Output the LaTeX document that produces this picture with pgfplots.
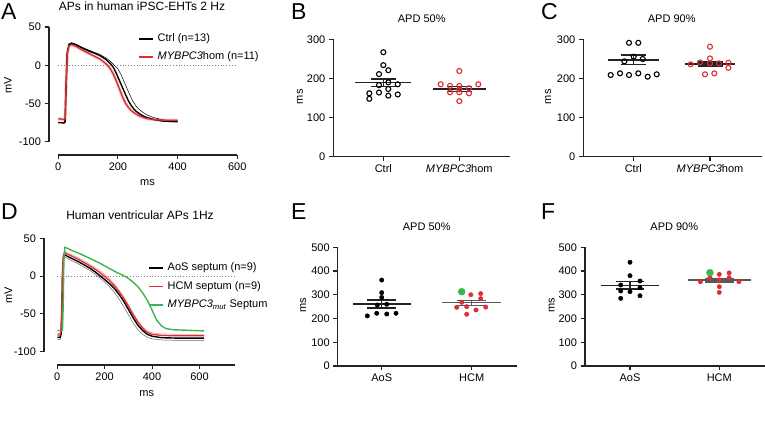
\documentclass[border=0pt]{standalone}
\usepackage{fontspec}
\setmainfont{Liberation Sans}
\usepackage{pgfplots}
\pgfplotsset{compat=1.18}
\definecolor{pred}{RGB}{222,45,52}
\definecolor{lred}{RGB}{240,150,150}
\definecolor{pgreen}{RGB}{60,180,80}
\definecolor{axcol}{RGB}{35,35,35}
\newcommand{\tf}{\fontsize{11}{13}\selectfont}
\newcommand{\ttf}{\fontsize{12}{14}\selectfont}
\newcommand{\lf}{\fontsize{23}{26}\selectfont}
\pgfplotsset{
  prism/.style={
    scale only axis, axis lines*=left,
    axis line style={line width=1.1pt, axcol},
    tick style={line width=1.1pt, axcol},
    tick align=outside, major tick length=4.5pt,
    tick label style={font=\tf},
    label style={font=\tf},
    /pgf/number format/assume math mode=true,
    clip=false, minor tick num=0,
  },
  leg/.style={
    legend style={draw=none, fill=none, font=\tf, inner sep=0pt,
      nodes={inner sep=0pt, text height=8pt, text depth=2.5pt}},
    legend cell align=left,
    legend image code/.code={\draw[##1] (0pt,0pt) -- (14pt,0pt);},
  },
  scat/.style={prism, xtick={1,2}, ytick distance=100, ymin=0},
  meanl/.style={line width=1.3pt, axcol, forget plot},
}
\begin{document}
\begin{tikzpicture}[x=1pt,y=1pt]
\useasboundingbox (0,0) rectangle (765,430);

% ---------- Panel A ----------
\begin{axis}[prism, leg, at={(49pt,275pt)}, anchor=south west,
  width=188.3pt, height=128pt, xmin=-31, xmax=600, ymin=-117.4, ymax=50,
  xtick={0,200,400,600}, ytick={-100,-50,0,50},
  axis line style={draw=none},
  xlabel={ms}, ylabel={mV},
  xlabel style={at={(axis description cs:0.523,-0.219)}, anchor=center},
  ylabel style={at={(axis description cs:-0.218,0.547)}, anchor=center},
  legend style={at={(axis description cs:0.473,0.95)}, anchor=north west, row sep=7.5pt, column sep=4pt}]
\addlegendimage{black, line width=1.4pt}
\addlegendentry{Ctrl (n=13)}
\addlegendimage{pred, line width=1.4pt}
\addlegendentry{\textit{MYBPC3}hom (n=11)}
\draw[line width=1.1pt, axcol] ({rel axis cs:0,0}|-{axis cs:0,-100}) -- ({rel axis cs:0,0}|-{axis cs:0,50});
\draw[line width=1.1pt, axcol] (axis cs:0,-117.4) -- (axis cs:600,-117.4);
\addplot[gray, dotted, line width=0.8pt, forget plot] coordinates {(0,0) (600,0)};
\addplot[lred, line width=3pt, opacity=0.6, forget plot] coordinates {
(0,-70)(20,-71)(23,-70)(26,-30)(30,15)(36,25.5)(45,27)(60,24.5)(80,20)(100,16)(120,12)(140,8)(155,3.5)(165,0)(175,-5)(185,-12)(195,-21)(205,-31)(215,-41)(225,-49.5)(235,-55)(245,-59.5)(255,-62.5)(270,-66)(290,-69)(305,-70.3)(330,-71.5)(360,-72)(400,-72)};
\addplot[black, line width=0.5pt, forget plot] coordinates {
(0,-74.5)(20,-75)(23,-73.5)(26,-28)(30,17)(36,28)(45,29.5)(60,27.5)(80,23.5)(100,20)(120,17)(140,14)(160,9.5)(175,5)(190,-1)(200,-5)(210,-12)(220,-21)(230,-30)(240,-39)(250,-47)(260,-53)(270,-57.5)(285,-62)(300,-65.5)(320,-68.5)(350,-71.5)(400,-73)};
\addplot[black, line width=1.4pt, forget plot] coordinates {
(0,-75)(20,-75.5)(23,-74)(26,-30)(30,15)(36,27)(45,28.5)(60,26.5)(80,22.5)(100,19)(120,16)(140,12.5)(160,7.5)(175,2)(185,-3)(195,-11)(205,-20)(215,-29)(225,-38)(235,-46.5)(245,-53)(255,-58)(265,-61.5)(280,-65.5)(297,-68.5)(320,-71)(350,-73)(400,-74)};
\addplot[pred, line width=1.3pt, forget plot] coordinates {
(0,-70)(20,-71)(23,-70)(26,-30)(30,15)(36,25.5)(45,27)(60,24.5)(80,20)(100,16)(120,12)(140,8)(155,3.5)(165,0)(175,-5)(185,-12)(195,-21)(205,-31)(215,-41)(225,-49.5)(235,-55)(245,-59.5)(255,-62.5)(270,-66)(290,-69)(305,-70.3)(330,-71.5)(360,-72)(400,-72)};
\end{axis}

% ---------- Panel D ----------
\begin{axis}[prism, leg, at={(44pt,65pt)}, anchor=south west,
  width=191pt, height=126.7pt, xmin=-56, xmax=750, ymin=-117.6, ymax=50,
  xtick={0,200,400,600}, ytick={-100,-50,0,50},
  axis line style={draw=none},
  xlabel={ms}, ylabel={mV},
  xlabel style={at={(axis description cs:0.538,-0.229)}, anchor=center},
  ylabel style={at={(axis description cs:-0.187,0.553)}, anchor=center},
  legend style={at={(axis description cs:0.545,0.807)}, anchor=north west, row sep=8pt, column sep=4pt}]
\addlegendimage{black, line width=1.4pt}
\addlegendentry{AoS septum (n=9)}
\addlegendimage{pred, line width=1.4pt}
\addlegendentry{HCM septum (n=9)}
\addlegendimage{pgreen, line width=1.4pt}
\addlegendentry{\textit{MYBPC3}\textsubscript{\textit{mut}} Septum}
\draw[line width=1.1pt, axcol] ({rel axis cs:0,0}|-{axis cs:0,-100}) -- ({rel axis cs:0,0}|-{axis cs:0,50});
\draw[line width=1.1pt, axcol] (axis cs:0,-117.6) -- (axis cs:748,-117.6);
\addplot[gray, dotted, line width=0.8pt, forget plot] coordinates {(0,0) (745,0)};
\addplot[black!60, line width=0.5pt, forget plot] coordinates {
(0,-84)(12,-84)(16,-80)(19,-55)(22,-5)(26,21)(32,25)(50,22)(80,17.5)(110,12.5)(140,7)(160,2.5)(180,-2.5)(200,-8)(220,-14)(240,-21)(260,-30)(280,-40)(300,-51)(320,-62)(340,-71)(360,-77)(380,-81)(400,-83)(440,-84.5)(500,-85)(620,-85)};
\addplot[lred, line width=0.6pt, forget plot] coordinates {
(0,-76)(12,-76)(16,-70)(19,-42)(22,8)(26,30)(31,33)(50,30)(80,25.5)(110,20.5)(140,15)(160,11)(180,7)(200,2)(220,-3.5)(240,-10)(260,-18)(280,-27)(300,-37.5)(320,-48.5)(340,-59)(360,-67)(380,-72.5)(400,-75)(440,-76.5)(500,-77)(620,-77)};
\addplot[black, line width=1.4pt, forget plot] coordinates {
(0,-81)(12,-81)(16,-77)(19,-50)(22,0)(26,24)(32,28)(50,25)(80,20.5)(110,15.5)(140,10)(160,5.5)(180,0.5)(200,-4.5)(220,-10)(240,-16)(260,-24)(280,-33)(300,-44)(320,-55)(340,-65)(360,-72)(380,-77)(400,-79.5)(440,-81.5)(500,-82)(620,-82)};
\addplot[pred, line width=1.3pt, forget plot] coordinates {
(0,-78)(12,-78)(16,-72)(19,-45)(22,5)(26,28)(31,31)(50,28)(80,23.5)(110,18.5)(140,13)(160,9)(180,4.5)(200,-0.5)(220,-6)(240,-12.5)(260,-20.5)(280,-29.5)(300,-40)(320,-51)(340,-61)(360,-69)(380,-74.5)(400,-77)(440,-78.5)(500,-79)(620,-79)};
\addplot[pgreen, line width=1.4pt, forget plot] coordinates {
(0,-72)(15,-72)(22,-71.5)(25,-40)(28,20)(32,38)(45,36.5)(60,34)(100,29)(140,23)(180,17)(220,10)(250,5)(284,0)(300,-3)(320,-8)(340,-14)(360,-22)(380,-32)(400,-45)(410,-52)(420,-58.5)(440,-66)(460,-69.5)(490,-71)(620,-72.5)};
\end{axis}

% ---------- Panel B ----------
\begin{axis}[scat, at={(333.3pt,273.3pt)}, anchor=south west,
  width=176.7pt, height=117.4pt, xmin=0.342, xmax=2.667, ymax=300,
  xticklabels={Ctrl, \textit{MYBPC3}hom},
  ylabel={ms}, ylabel style={at={(axis description cs:-0.188,0.511)}, anchor=center}]
\addplot[only marks, mark=o, mark size=2.5pt, black, line width=1.1pt] table {
1.000 267
1.000 234
1.066 221
0.943 211
1.066 190
0.943 183
1.190 185
0.816 162
0.816 148
0.943 164
1.066 173
1.066 156
1.190 159
};
\addplot[only marks, mark=o, mark size=2.5pt, pred, line width=1.1pt] table {
2.000 219
1.755 185
1.878 181
2.000 181
2.127 175
2.250 185
1.878 164.5
2.000 164.5
2.127 162
2.000 142
2.000 172
};
\addplot[meanl] coordinates {(0.63,189) (1.37,189)};
\addplot[meanl] coordinates {(0.835,198.5) (1.165,198.5)};
\addplot[meanl] coordinates {(0.835,179) (1.165,179)};
\addplot[meanl] coordinates {(1,179) (1,198.5)};
\addplot[meanl] coordinates {(1.65,173) (2.35,173)};
\addplot[meanl] coordinates {(1.835,180) (2.165,180)};
\addplot[meanl] coordinates {(1.835,167) (2.165,167)};
\addplot[meanl] coordinates {(2,167) (2,180)};
\end{axis}

% ---------- Panel C ----------
\begin{axis}[scat, at={(583.3pt,273.3pt)}, anchor=south west,
  width=178.4pt, height=117.4pt, xmin=0.348, xmax=2.674, ymax=300,
  xticklabels={Ctrl, \textit{MYBPC3}hom},
  ylabel={ms}, ylabel style={at={(axis description cs:-0.196,0.511)}, anchor=center}]
\addplot[only marks, mark=o, mark size=2.5pt, black, line width=1.1pt] table {
0.944 291
1.065 291
1.005 255.5
1.123 249.6
0.883 243.7
0.705 208.7
0.827 213
0.944 208.7
1.065 213
1.188 204.4
1.305 210.5
};
\addplot[only marks, mark=o, mark size=2.5pt, pred, line width=1.1pt] table {
2.000 281
2.000 251
1.748 236
1.870 241
2.000 238.6
2.117 238.6
2.239 240
2.239 227
1.935 210.5
2.056 213
};
\addplot[meanl] coordinates {(0.67,247) (1.33,247)};
\addplot[meanl] coordinates {(0.837,260) (1.163,260)};
\addplot[meanl] coordinates {(0.837,236) (1.163,236)};
\addplot[meanl] coordinates {(1,236) (1,260)};
\addplot[meanl] coordinates {(1.67,237) (2.33,237)};
\addplot[meanl] coordinates {(1.837,242) (2.163,242)};
\addplot[meanl] coordinates {(1.837,232) (2.163,232)};
\addplot[meanl] coordinates {(2,232) (2,242)};
\end{axis}

% ---------- Panel E ----------
\begin{axis}[scat, at={(337.7pt,64pt)}, anchor=south west,
  width=179pt, height=118.7pt, xmin=0.511, xmax=2.5, ymax=500,
  xticklabels={AoS, HCM},
  ylabel={ms}, ylabel style={at={(axis description cs:-0.192,0.514)}, anchor=center}]
\addplot[only marks, mark=*, mark size=2.2pt, black] table {
1.000 362
1.000 309
1.000 289
0.951 257
1.056 260
0.840 211
0.944 222
1.056 219
1.159 222
};
\addplot[only marks, mark=*, mark size=2.2pt, pred] table {
1.990 300
2.100 305
1.889 268
2.100 284
1.833 247
1.944 250
2.156 248
2.048 236
1.944 218
};
\addplot[only marks, mark=*, mark size=3.5pt, pgreen] coordinates {(1.889,313)};
\addplot[meanl] coordinates {(0.68,261) (1.32,261)};
\addplot[meanl] coordinates {(0.84,278) (1.16,278)};
\addplot[meanl] coordinates {(0.84,244) (1.16,244)};
\addplot[meanl] coordinates {(1,244) (1,278)};
\addplot[meanl, black!65] coordinates {(1.67,266) (2.33,266)};
\addplot[meanl, black!65] coordinates {(1.84,276) (2.16,276)};
\addplot[meanl, black!65] coordinates {(1.84,256) (2.16,256)};
\addplot[meanl, black!65] coordinates {(2,256) (2,276)};
\end{axis}

% ---------- Panel F ----------
\begin{axis}[scat, at={(585pt,64pt)}, anchor=south west,
  width=180pt, height=118.7pt, xmin=0.496, xmax=2.512, ymax=500,
  xticklabels={AoS, HCM},
  ylabel={ms}, ylabel style={at={(axis description cs:-0.185,0.514)}, anchor=center}]
\addplot[only marks, mark=*, mark size=2.2pt, black] table {
1.000 437
1.000 380.5
1.112 358
0.896 341
1.112 330
0.896 316
1.000 313
0.896 285
1.112 296
};
\addplot[only marks, mark=*, mark size=2.2pt, pred] table {
1.788 355
1.895 372
2.000 386
2.110 392
2.110 372
2.000 362
2.220 355
2.000 334
2.000 310
};
\addplot[only marks, mark=*, mark size=3.5pt, pgreen] coordinates {(1.895,393)};
\addplot[meanl] coordinates {(0.675,338) (1.325,338)};
\addplot[meanl] coordinates {(0.84,355) (1.16,355)};
\addplot[meanl] coordinates {(0.84,324) (1.16,324)};
\addplot[meanl] coordinates {(1,324) (1,355)};
\addplot[meanl, black!65] coordinates {(1.65,362) (2.35,362)};
\addplot[meanl, black!65] coordinates {(1.84,370) (2.16,370)};
\addplot[meanl, black!65] coordinates {(1.84,354) (2.16,354)};
\addplot[meanl, black!65] coordinates {(2,354) (2,370)};
\end{axis}

% ---------- titles and panel letters ----------
\node[font=\ttf] at (142,423.5) {APs in human iPSC-EHTs 2 Hz};
\node[font=\ttf] at (140,215) {Human ventricular APs 1Hz};
\node[font=\tf] at (421.7,411) {APD 50\%};
\node[font=\tf] at (671.7,411) {APD 90\%};
\node[font=\tf] at (426.7,203) {APD 50\%};
\node[font=\tf] at (674.3,203) {APD 90\%};
\node[font=\lf, anchor=base west, inner sep=0pt] at (1,410) {A};
\node[font=\lf, anchor=base west, inner sep=0pt] at (291,410) {B};
\node[font=\lf, anchor=base west, inner sep=0pt] at (541,410) {C};
\node[font=\lf, anchor=base west, inner sep=0pt] at (1,210) {D};
\node[font=\lf, anchor=base west, inner sep=0pt] at (291,210) {E};
\node[font=\lf, anchor=base west, inner sep=0pt] at (541,210) {F};
\end{tikzpicture}
\end{document}
